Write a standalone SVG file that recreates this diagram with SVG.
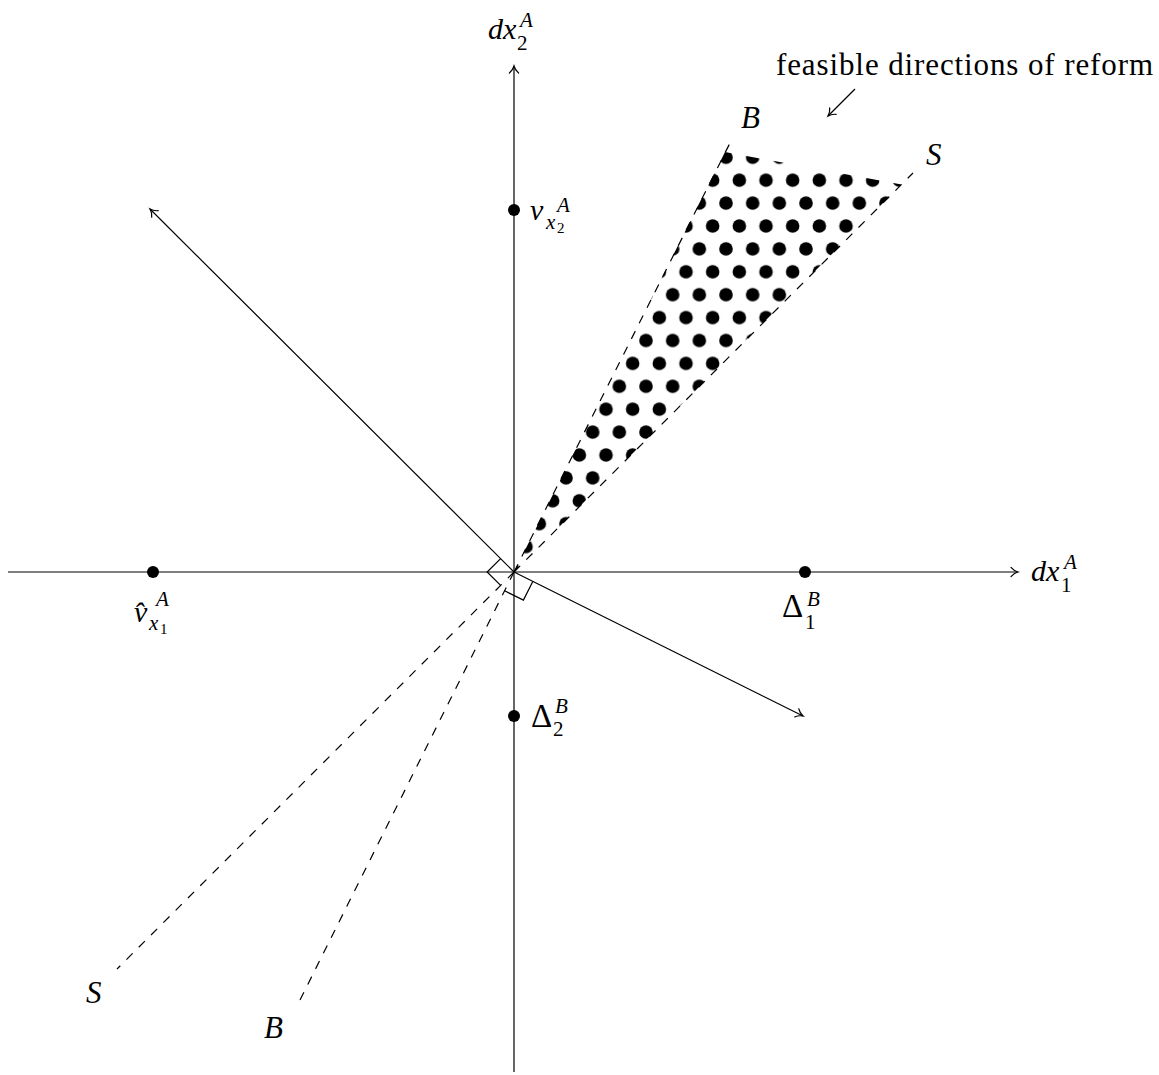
<svg xmlns="http://www.w3.org/2000/svg" width="1159" height="1075" viewBox="0 0 1159 1075" font-family="Liberation Serif, Times New Roman, serif">
<style>
.ln{stroke:#000;stroke-width:1.2;fill:none}
.dash{stroke:#000;stroke-width:1.2;fill:none;stroke-dasharray:8.7 8.7}
text{font-family:"Liberation Serif","Times New Roman",serif;font-size:30px;fill:#000}
.i{font-style:italic}
.s{font-size:21px}
.ss{font-size:15px}
.pt{fill:#000}
</style>
<defs>
<marker id="ah" markerUnits="userSpaceOnUse" orient="auto" refX="0" refY="0" markerWidth="20" markerHeight="20" viewBox="-10 -10 20 20" overflow="visible">
<path d="M-7,-4.6 C-5,-2.2 -2.2,-0.6 0,0 C-2.2,0.6 -5,2.2 -7,4.6" fill="none" stroke="#000" stroke-width="1.2" stroke-linecap="round"/>
</marker>
<pattern id="dots" patternUnits="userSpaceOnUse" x="726" y="157.3" width="26.667" height="45.8">
<circle cx="0" cy="0" r="6.8"/>
<circle cx="26.667" cy="0" r="6.8"/>
<circle cx="0" cy="45.8" r="6.8"/>
<circle cx="26.667" cy="45.8" r="6.8"/>
<circle cx="13.333" cy="22.9" r="6.8"/>
</pattern>
</defs>
<rect width="1159" height="1075" fill="#fff"/>

<g id="feasible-region">
<polygon points="514,572 725,152 901.5,184.5" fill="url(#dots)"/>
</g>

<g id="connectors">
<line id="axis-x" class="ln" x1="8" y1="572" x2="1018" y2="572" marker-end="url(#ah)"/>
<line id="axis-y" class="ln" x1="514" y1="1072" x2="514" y2="66" marker-end="url(#ah)"/>
<line id="B-up" class="dash" x1="514" y1="572" x2="732" y2="139"/>
<line id="B-down" class="dash" x1="514" y1="572" x2="297" y2="1006"/>
<line id="S-up" class="dash" x1="514" y1="572" x2="913" y2="173"/>
<line id="S-down" class="dash" x1="514" y1="572" x2="117" y2="969"/>
<line id="perp-S" class="ln" x1="514" y1="572" x2="150" y2="209" marker-end="url(#ah)"/>
<line id="perp-B" class="ln" x1="514" y1="572" x2="803" y2="716" marker-end="url(#ah)"/>
<polyline id="right-angle-S" class="ln" points="500.6,558.6 487.1,572 500.6,585.4"/>
<polyline id="right-angle-B" class="ln" points="532.8,581.4 523.4,600.1 504.6,590.8"/>
<line id="feasible-pointer" class="ln" x1="855" y1="89" x2="828" y2="116" marker-end="url(#ah)"/>
</g>

<g id="label-dx2">
<text x="488" y="39"><tspan class="i">dx</tspan><tspan class="s" x="517" y="50">2</tspan><tspan class="s i" x="520" y="27">A</tspan></text>
</g>
<g id="label-dx1">
<text x="1031" y="581"><tspan class="i">dx</tspan><tspan class="s" x="1061" y="592">1</tspan><tspan class="s i" x="1064" y="569">A</tspan></text>
</g>
<g id="label-feasible">
<text x="776" y="75" style="font-size:31px" textLength="377" lengthAdjust="spacing">feasible directions of reform</text>
</g>
<g id="label-B-top"><text class="i" x="741" y="128" style="font-size:31px">B</text></g>
<g id="label-S-top"><text class="i" x="926" y="165" style="font-size:31px">S</text></g>
<g id="label-S-bottom"><text class="i" x="86" y="1003" style="font-size:31px">S</text></g>
<g id="label-B-bottom"><text class="i" x="264" y="1038" style="font-size:31px">B</text></g>

<g id="node-vx2">
<circle class="pt" cx="514" cy="210" r="6"/>
<text x="530" y="220"><tspan class="i">v</tspan><tspan class="s i" x="546" y="229">x</tspan><tspan class="ss" x="557" y="233">2</tspan><tspan class="s i" x="557" y="212">A</tspan></text>
</g>
<g id="node-vx1">
<circle class="pt" cx="153" cy="572" r="6"/>
<text x="134" y="622"><tspan class="i">v̂</tspan><tspan class="s i" x="149" y="630">x</tspan><tspan class="ss" x="160" y="634">1</tspan><tspan class="s i" x="156" y="606">A</tspan></text>
</g>
<g id="node-delta1">
<circle class="pt" cx="805" cy="572" r="6"/>
<text x="782" y="617"><tspan style="font-size:33px">Δ</tspan><tspan class="s" x="805" y="629">1</tspan><tspan class="s i" x="807" y="606">B</tspan></text>
</g>
<g id="node-delta2">
<circle class="pt" cx="514" cy="716" r="6"/>
<text x="531" y="727"><tspan style="font-size:33px">Δ</tspan><tspan class="s" x="553" y="736">2</tspan><tspan class="s i" x="555" y="713">B</tspan></text>
</g>
</svg>
